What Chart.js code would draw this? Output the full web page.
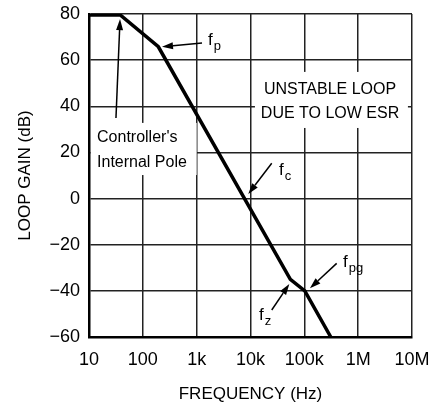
<!DOCTYPE html>
<html><head><meta charset="utf-8">
<script src="https://cdn.jsdelivr.net/npm/chart.js@4/dist/chart.umd.min.js"></script>
<style>html,body{margin:0;padding:0;background:#fff}</style>
</head><body>
<canvas id="c" width="433" height="408"></canvas>
<script>
// ---- data ----
const freq = [10, 38, 194, 55000, 102000, 310000];
const gain = [79.6, 79.6, 65.8, -35, -40, -60];
const xTickValues = [10, 100, 1e3, 1e4, 1e5, 1e6, 1e7];
const xTickLabels = ['10', '100', '1k', '10k', '100k', '1M', '10M'];
const yTickValues = [-60, -40, -20, 0, 20, 40, 60, 80];
const yTickLabels = ['\u221260', '\u221240', '\u221220', '0', '20', '40', '60', '80'];

// annotation text (data-space anchors)
const boxRanges = [ // [xmin, xmax, ymin, ymax]
  [10, 1000, 10.2, 32.8],
  [11100, 8.4e6, 30.6, 54.9]
];
const boxTexts = [
  {lines: ["Controller's", 'Internal Pole'], x: 14.1, y: [26.3, 15.8], align: 'left'},
  {lines: ['UNSTABLE LOOP', 'DUE TO LOW ESR'], x: 300000, y: [47.1, 37.0], align: 'center'}
];
const arrowTails = [[31.7, 34.9], [1256, 67.4], [24800, 15.3], [399000, -28.1], [24800, -48.3]];
const arrowTips  = [[37.7, 77.8], [227, 65.8], [9100, 1.98], [127000, -38.9], [52600, -37.0]];
const fLabelSubs = ['p', 'c', 'pg', 'z'];
const fLabelPos = [[1626, 66.6], [33900, 10.2], [524000, -29.7], [14400, -52.6]];

const FONT = '"Liberation Sans", Arial, sans-serif';

const notes = {
  id: 'notes',
  beforeDatasetsDraw(chart) {
    const {ctx, scales: {x, y}} = chart;
    ctx.save();
    ctx.fillStyle = '#fff';
    boxRanges.forEach(b => {
      const x0 = x.getPixelForValue(b[0]) + 2, x1 = x.getPixelForValue(b[1]);
      const y0 = y.getPixelForValue(b[3]), y1 = y.getPixelForValue(b[2]);
      ctx.fillRect(x0, y0, x1 - x0, y1 - y0);
    });
    ctx.restore();
  },
  afterDatasetsDraw(chart) {
    const {ctx, scales: {x, y}} = chart;
    ctx.save();
    ctx.fillStyle = '#000';
    ctx.strokeStyle = '#000';
    ctx.font = '16px ' + FONT;
    ctx.textBaseline = 'middle';
    boxTexts.forEach(t => {
      ctx.textAlign = t.align;
      t.lines.forEach((s, i) => ctx.fillText(s, x.getPixelForValue(t.x), y.getPixelForValue(t.y[i])));
    });
    // arrows
    ctx.lineWidth = 1.5;
    arrowTails.forEach((tl, i) => {
      const x0 = x.getPixelForValue(tl[0]), y0 = y.getPixelForValue(tl[1]);
      const x1 = x.getPixelForValue(arrowTips[i][0]), y1 = y.getPixelForValue(arrowTips[i][1]);
      const a = Math.atan2(y1 - y0, x1 - x0), L = 11, W = 3.5;
      const bx = x1 - L * Math.cos(a), by = y1 - L * Math.sin(a);
      ctx.beginPath(); ctx.moveTo(x0, y0); ctx.lineTo(bx, by); ctx.stroke();
      ctx.beginPath();
      ctx.moveTo(x1, y1);
      ctx.lineTo(bx + W * Math.sin(a), by - W * Math.cos(a));
      ctx.lineTo(bx - W * Math.sin(a), by + W * Math.cos(a));
      ctx.closePath(); ctx.fill();
    });
    // f labels with subscripts
    ctx.textAlign = 'left';
    ctx.textBaseline = 'alphabetic';
    fLabelPos.forEach((p, i) => {
      const px = x.getPixelForValue(p[0]), py = y.getPixelForValue(p[1]);
      ctx.font = '17px ' + FONT;
      ctx.fillText('f', px, py);
      const w = ctx.measureText('f').width;
      ctx.font = '13px ' + FONT;
      ctx.fillText(fLabelSubs[i], px + w + 1, py + 5);
    });
    ctx.restore();
  }
};

const zeroPad = s => { s.paddingTop = 0; s.paddingBottom = 0; s.paddingLeft = 0; s.paddingRight = 0; };

new Chart(document.getElementById('c'), {
  type: 'line',
  data: {
    datasets: [{
      data: freq.map((f, i) => ({x: f, y: gain[i]})),
      borderColor: '#000', borderWidth: 3.5, pointRadius: 0, tension: 0, fill: false
    }]
  },
  options: {
    responsive: false, animation: false, devicePixelRatio: 1,
    layout: {padding: {top: 14, right: 21, left: 0, bottom: 0}},
    plugins: {legend: {display: false}, tooltip: {enabled: false}},
    scales: {
      x: {
        type: 'logarithmic', min: 10, max: 1e7,
        afterBuildTicks: s => { s.ticks = xTickValues.map(v => ({value: v})); },
        afterFit: s => { s.height = 71; zeroPad(s); },
        ticks: {
          autoSkip: false, maxRotation: 0, padding: 12, color: '#000',
          font: {family: FONT, size: 18},
          callback: v => { const i = xTickValues.indexOf(v); return i >= 0 ? xTickLabels[i] : ''; }
        },
        grid: {color: '#222', lineWidth: 1.5, drawTicks: false},
        border: {color: '#000', width: 2.5},
        title: {display: true, text: 'FREQUENCY (Hz)', color: '#000', font: {family: FONT, size: 17}, padding: {top: 0, bottom: 3}}
      },
      y: {
        min: -60, max: 80,
        afterBuildTicks: s => { s.ticks = yTickValues.map(v => ({value: v})); },
        afterFit: s => { s.width = 89; zeroPad(s); },
        ticks: {
          padding: 9, color: '#000',
          font: {family: FONT, size: 18},
          callback: v => { const i = yTickValues.indexOf(v); return i >= 0 ? yTickLabels[i] : ''; }
        },
        grid: {color: '#222', lineWidth: 1.5, drawTicks: false},
        border: {color: '#000', width: 2.5},
        title: {display: true, text: 'LOOP GAIN (dB)', color: '#000', font: {family: FONT, size: 17}, padding: {top: 15, bottom: 0}}
      }
    }
  },
  plugins: [notes]
});
</script>
</body></html>
